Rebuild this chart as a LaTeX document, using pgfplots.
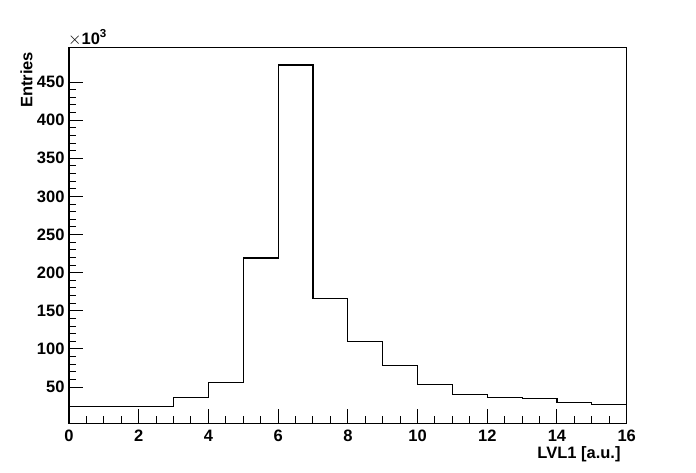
\documentclass[border=0pt]{standalone}
\usepackage{fontspec}
\setmainfont{Liberation Sans}
\usepackage{pgfplots}
\pgfplotsset{compat=1.18}
\newcommand{\lblfont}{\bfseries\fontsize{16.5}{16.5}\selectfont}
\begin{document}
\begin{tikzpicture}[font=\bfseries]
\begin{axis}[
  scale only axis,
  width=557.7pt, height=376pt,
  xmin=0, xmax=16,
  ymin=2500, ymax=495600,
  axis line style={line width=1.2pt},
  tick pos=left, tick align=inside,
  xtick={0,2,...,16}, minor x tick num=3,
  ytick={50000,100000,...,450000}, minor y tick num=4,
  major tick length=14pt, minor tick length=7pt,
  tick style={line width=1pt, black},
  scaled y ticks=manual:{$\times$10\textsuperscript{3}}{\pgfmathparse{#1/1000}},
  every y tick scale label/.style={at={(rel axis cs:0,1)}, anchor=south west,
    inner sep=0pt, yshift=1.5pt, font=\lblfont},
  ticklabel style={font=\lblfont},
  /pgf/number format/assume math mode=true,
  xticklabel style={yshift=-3pt},
  yticklabel style={xshift=-1pt},
  xlabel={LVL1 [a.u.]},
  ylabel={Entries},
  xlabel style={at={(rel axis cs:1,0)}, anchor=north east, inner sep=0pt,
    xshift=-6pt, yshift=-23.5pt, font=\lblfont},
  ylabel style={at={([xshift=-36.3pt,yshift=-4.4pt]rel axis cs:0,1)},
    anchor=south east, inner sep=0pt, font=\lblfont},
]
\addplot[const plot, black, line width=1.2pt] coordinates {
  (0,24300) (1,24300) (2,24300) (3,36100) (4,56200) (5,219400)
  (6,472400) (7,165700) (8,109400) (9,78400) (10,53500) (11,40100)
  (12,36100) (13,34800) (14,30000) (15,27000) (16,27000)
};
\end{axis}
\path (current axis.south west) ++(-69pt,-48.7pt) rectangle ++(696pt,472pt);
\end{tikzpicture}
\end{document}
